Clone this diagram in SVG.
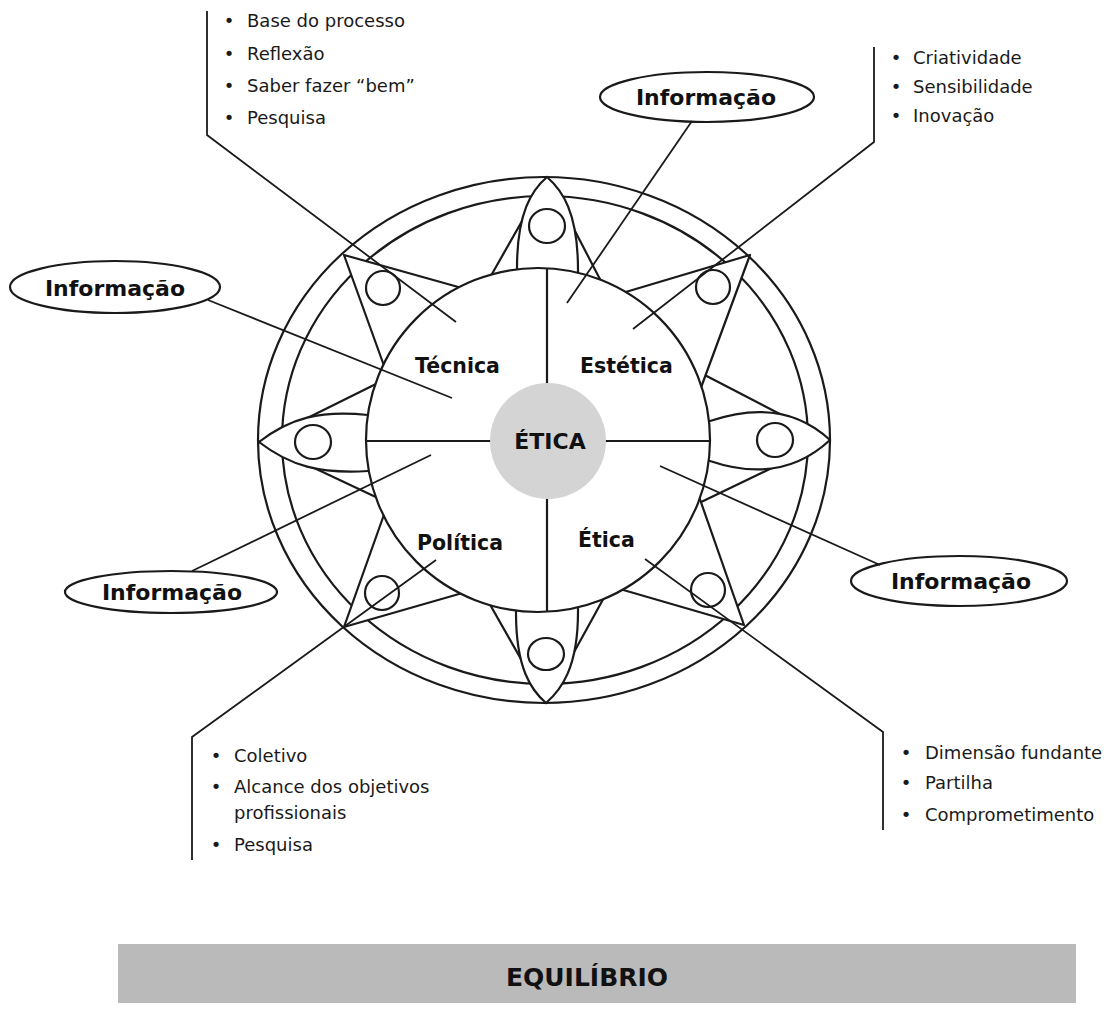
<svg xmlns="http://www.w3.org/2000/svg" width="1108" height="1013" viewBox="0 0 1108 1013">
<style>
.ln{fill:none;stroke:#1a1a1a;stroke-width:2.2}
.sh{fill:#fff;stroke:#1a1a1a;stroke-width:2.2;stroke-linejoin:round}
.cn{fill:none;stroke:#1a1a1a;stroke-width:1.8}
.t{font-family:"DejaVu Sans",Verdana,sans-serif;font-size:18px;fill:#1a1a1a}
.b{font-family:"DejaVu Sans",Verdana,sans-serif;font-weight:bold;font-size:20.5px;fill:#111}
.i{font-family:"DejaVu Sans",Verdana,sans-serif;font-weight:bold;font-size:22px;fill:#111;text-anchor:middle}
.bu{text-anchor:middle}
</style>
<rect width="1108" height="1013" fill="#fff"/>
<g id="rings">
<ellipse class="ln" cx="544" cy="440" rx="286" ry="263"/>
<ellipse class="ln" cx="545" cy="440" rx="263" ry="244"/>
</g>
<g id="star">
<polygon class="sh" points="547,177 488,281 603,285"/>
<polygon class="sh" points="546,703 488,601 606,594"/>
<polygon class="sh" points="259,442 380,382 380,499"/>
<polygon class="sh" points="830,440 697,371 697,504"/>
<polygon class="sh" points="344,255 469,290 387,374"/>
<polygon class="sh" points="750,255 619,294 699,393"/>
<polygon class="sh" points="744,625 696,488 613,587"/>
<polygon class="sh" points="344,627 386,509 466,592"/>
<path class="sh" d="M547,177 C532,190 517,212 517,268 L517,285 L578,285 L578,270 C578,212 562,190 547,177 Z"/>
<path class="sh" d="M546,703 C531,690 516,668 516,613 L516,598 L578,598 L578,612 C578,668 561,690 546,703 Z"/>
<path class="sh" d="M259,442 C290,418 320,410 368,415 L380,415 L380,471 L368,471 C320,474 290,466 259,442 Z"/>
<path class="sh" d="M830,440 C800,412 760,404 710,421 L698,421 L698,461 L710,461 C760,478 800,468 830,440 Z"/>
</g>
<g id="inner">
<circle class="sh" cx="538" cy="440" r="172"/>
<line class="ln" x1="547" y1="268" x2="547" y2="612"/>
<line class="ln" x1="366" y1="441" x2="710" y2="441"/>
</g>
<g id="eyes">
<ellipse class="ln" cx="547" cy="226" rx="18" ry="17"/>
<ellipse class="ln" cx="546" cy="654" rx="18" ry="16"/>
<ellipse class="ln" cx="313" cy="442" rx="18" ry="17"/>
<ellipse class="ln" cx="775" cy="440" rx="18" ry="17"/>
<ellipse class="ln" cx="383" cy="288" rx="17" ry="17"/>
<ellipse class="ln" cx="713" cy="287" rx="17" ry="17"/>
<ellipse class="ln" cx="708" cy="590" rx="17" ry="17"/>
<ellipse class="ln" cx="382" cy="593" rx="17" ry="17"/>
</g>
<g id="etica-center">
<circle cx="548" cy="441" r="58" fill="#d4d4d4"/>
<text class="i" x="550" y="449">ÉTICA</text>
</g>
<g id="tecnica"><text class="b" x="415" y="373">Técnica</text></g>
<g id="estetica"><text class="b" x="580" y="373">Estética</text></g>
<g id="politica"><text class="b" x="417" y="550">Política</text></g>
<g id="etica"><text class="b" x="578" y="547">Ética</text></g>
<g id="connectors">
<polyline class="cn" points="207,11 207,135 456,322"/>
<polyline class="cn" points="874,47 874,142 633,329"/>
<line class="cn" x1="692" y1="121" x2="567" y2="303"/>
<line class="cn" x1="208" y1="300" x2="452" y2="398"/>
<line class="cn" x1="192" y1="571" x2="431" y2="455"/>
<line class="cn" x1="880" y1="565" x2="660" y2="466"/>
<polyline class="cn" points="645,559 883,732 883,830"/>
<polyline class="cn" points="436,560 192,737 192,860"/>
</g>
<g id="info-top"><ellipse class="ln" cx="707" cy="97" rx="107" ry="25"/><text class="i" x="706" y="105">Informação</text></g>
<g id="info-left"><ellipse class="ln" cx="115" cy="287" rx="105" ry="26"/><text class="i" x="115" y="296">Informação</text></g>
<g id="info-bottom-left"><ellipse class="ln" cx="171" cy="592" rx="106" ry="21"/><text class="i" x="172" y="600">Informação</text></g>
<g id="info-right"><ellipse class="ln" cx="959" cy="581" rx="108" ry="25"/><text class="i" x="961" y="589">Informação</text></g>
<g id="list-tecnica" class="t">
<text class="bu" x="229" y="27">•</text><text x="247" y="27">Base do processo</text>
<text class="bu" x="229" y="60">•</text><text x="247" y="60">Reflexão</text>
<text class="bu" x="229" y="92">•</text><text x="247" y="92">Saber fazer “bem”</text>
<text class="bu" x="229" y="124">•</text><text x="247" y="124">Pesquisa</text>
</g>
<g id="list-estetica" class="t">
<text class="bu" x="896" y="64">•</text><text x="913" y="64">Criatividade</text>
<text class="bu" x="896" y="93">•</text><text x="913" y="93">Sensibilidade</text>
<text class="bu" x="896" y="122">•</text><text x="913" y="122">Inovação</text>
</g>
<g id="list-politica" class="t">
<text class="bu" x="216" y="762">•</text><text x="234" y="762">Coletivo</text>
<text class="bu" x="216" y="793">•</text><text x="234" y="793">Alcance dos objetivos</text>
<text x="234" y="819">profissionais</text>
<text class="bu" x="216" y="851">•</text><text x="234" y="851">Pesquisa</text>
</g>
<g id="list-etica" class="t">
<text class="bu" x="906" y="759">•</text><text x="925" y="759">Dimensão fundante</text>
<text class="bu" x="906" y="789">•</text><text x="925" y="789">Partilha</text>
<text class="bu" x="906" y="821">•</text><text x="925" y="821">Comprometimento</text>
</g>
<g id="equilibrio">
<rect x="118" y="944" width="958" height="59" fill="#bababa"/>
<text class="i" x="587" y="986" style="font-size:25px">EQUILÍBRIO</text>
</g>
</svg>
